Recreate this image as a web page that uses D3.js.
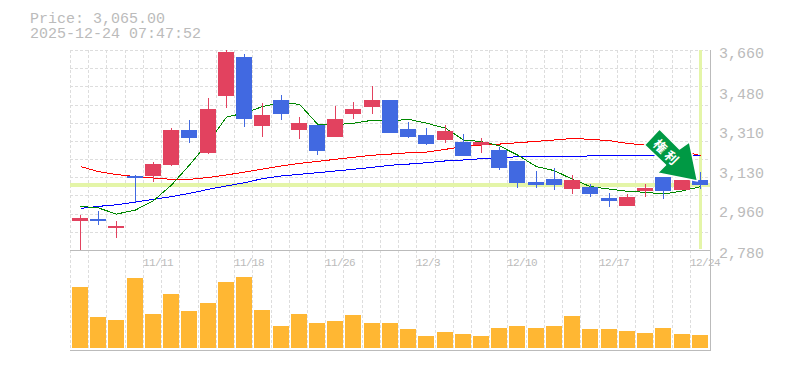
<!DOCTYPE html>
<html>
<head>
<meta charset="utf-8">
<style>
  html, body { margin: 0; padding: 0; background: #fff; }
  svg { display: block; }
  text { font-family: "Liberation Mono", monospace; fill: #bbb; }
</style>
</head>
<body>
<svg width="785" height="370"></svg>
<script src="https://cdn.jsdelivr.net/npm/d3@7"></script>
<script>
const dates = ["11/5","11/6","11/7","11/10","11/11","11/12","11/13","11/14","11/17","11/18",
  "11/19","11/20","11/21","11/25","11/26","11/27","11/28","12/1","12/2","12/3",
  "12/4","12/5","12/8","12/9","12/10","12/11","12/12","12/15","12/16","12/17",
  "12/18","12/19","12/22","12/23","12/24"];
const labelledDates = ["11/11","11/18","11/26","12/3","12/10","12/17","12/24"];
const priceLabels = [3660, 3480, 3310, 3130, 2960, 2780];

const opens = [2908,2916,2877,3106,3106,3154,3308,3207,3458,3629,3326,3440,3308,3330,3277,3378,3409,3440,
  3312,3286,3264,3255,3242,3220,3172,3079,3092,3048,3057,3009,2974,3040,3101,3044,3088];
const highs = [2934,2952,2908,3110,3167,3317,3352,3449,3660,3642,3427,3462,3365,3330,3414,3431,3502,3440,
  3343,3317,3330,3290,3273,3233,3172,3128,3141,3110,3070,3031,3026,3070,3101,3088,3123];
const lows = [2780,2890,2833,2991,3079,3150,3251,3202,3405,3321,3277,3352,3268,3198,3277,3356,3378,3295,
  3273,3242,3251,3194,3207,3132,3053,3053,3044,3026,3013,2969,2974,3013,3004,3044,3048];
const closes = [2921,2908,2886,3097,3158,3308,3273,3400,3651,3356,3374,3378,3339,3216,3356,3400,3440,3295,
  3277,3246,3304,3194,3255,3141,3075,3066,3066,3088,3026,2996,3013,3053,3040,3088,3065];

const maShort = [2972,2965,2938,2956,2997,3066,3154,3255,3365,3383,3411,3428,3421,3334,3331,3338,3351,3348,
  3355,3338,3316,3264,3257,3238,3198,3147,3129,3091,3059,3048,3038,3034,3026,3040,3059];
const maMid = [2963,2972,2979,2991,3003,3015,3029,3047,3062,3076,3094,3106,3113,3120,3128,3135,3144,3153,
  3158,3164,3172,3176,3182,3183,3191,3192,3192,3192,3194,3197,3194,3197,3198,3198,3197];
const maLong = [3147,3125,3112,3103,3097,3091,3091,3099,3110,3123,3136,3150,3161,3170,3179,3188,3197,3202,
  3208,3211,3223,3235,3242,3246,3252,3258,3264,3271,3267,3261,3249,3242,3233,3216,3195];

const volume = [610,310,280,700,340,540,370,450,660,710,380,220,340,250,270,330,250,250,
  190,120,160,140,120,200,220,200,220,320,190,190,170,150,200,140,130];

const lastPrice = 3065;
const priceText = "Price: 3,065.00";
const timeText = "2025-12-24 07:47:52";
const markText = "権利";

const svg = d3.select("svg");
const plot = { left: 70, right: 710, top: 50, mid: 250, bottom: 350 };

const x = d3.scaleBand().domain(dates).range([71, 709]);
const y = d3.scaleLinear().domain([2780, 3660]).range([250, 50]);
const yVol = d3.scaleLinear().domain([0, 1000]).range([348, 248]);
const bw = 16;
const barX = d => Math.round(x(d)) + 1;
const midX = d => barX(d) + bw / 2 + 0.5;

// Grid
const grid = svg.append("g").attr("stroke", "#ddd").attr("stroke-dasharray", "3,2")
  .attr("shape-rendering", "crispEdges");
grid.selectAll(".h").data(d3.range(2780, 3661, 80)).join("line").attr("class", "h")
  .attr("x1", plot.left).attr("x2", plot.right)
  .attr("y1", d => Math.round(y(d)) + 0.5).attr("y2", d => Math.round(y(d)) + 0.5);
grid.selectAll(".v").data(dates).join("line").attr("class", "v")
  .attr("x1", d => Math.round(x(d)) - 0.5).attr("x2", d => Math.round(x(d)) - 0.5)
  .attr("y1", plot.top).attr("y2", plot.bottom);

// Last price and last date highlight
svg.append("line")
  .attr("x1", plot.left).attr("x2", plot.right)
  .attr("y1", y(lastPrice)).attr("y2", y(lastPrice))
  .attr("stroke", "#e4f5a8").attr("stroke-width", 4)
  .attr("shape-rendering", "crispEdges");
svg.append("line")
  .attr("x1", midX(dates[34])).attr("x2", midX(dates[34]))
  .attr("y1", plot.top).attr("y2", 249)
  .attr("stroke", "#e4f5a8").attr("stroke-width", 3)
  .attr("shape-rendering", "crispEdges");

// Panel borders
const border = svg.append("g").attr("stroke", "#bbb").attr("shape-rendering", "crispEdges");
border.append("line").attr("x1", plot.left).attr("x2", plot.right + 1).attr("y1", plot.mid + 0.5).attr("y2", plot.mid + 0.5);
border.append("line").attr("x1", plot.left).attr("x2", plot.right + 1).attr("y1", plot.bottom + 0.5).attr("y2", plot.bottom + 0.5);
border.append("line").attr("x1", plot.right + 0.5).attr("x2", plot.right + 0.5).attr("y1", plot.top).attr("y2", plot.bottom);

// Volume
svg.append("g").attr("fill", "#ffb733").attr("shape-rendering", "crispEdges")
  .selectAll("rect").data(dates).join("rect")
  .attr("x", d => barX(d)).attr("width", bw)
  .attr("y", (d, i) => yVol(volume[i])).attr("height", (d, i) => yVol(0) - yVol(volume[i]));

// Moving averages
const line = d3.line().x((d, i) => midX(dates[i])).y(d => y(d));
[[maLong, "#f00"], [maMid, "#00f"], [maShort, "#080"]].forEach(([s, c]) => {
  svg.append("path").attr("d", line(s)).attr("fill", "none")
    .attr("stroke", c).attr("stroke-width", 1)
    .attr("shape-rendering", "crispEdges");
});

// Candles
const color = i => closes[i] >= opens[i] ? "#e2425f" : "#4169e1";
const candle = svg.append("g").attr("shape-rendering", "crispEdges");
candle.selectAll("line").data(dates).join("line")
  .attr("x1", d => midX(d)).attr("x2", d => midX(d))
  .attr("y1", (d, i) => y(highs[i])).attr("y2", (d, i) => y(lows[i]))
  .attr("stroke", (d, i) => color(i));
candle.selectAll("rect").data(dates).join("rect")
  .attr("x", d => barX(d)).attr("width", bw)
  .attr("y", (d, i) => y(Math.max(opens[i], closes[i])))
  .attr("height", (d, i) => Math.max(2, Math.abs(y(opens[i]) - y(closes[i]))))
  .attr("fill", (d, i) => color(i));

// Marker arrow
const mark = svg.append("g")
  .attr("transform", `translate(${midX(dates[34]) - 4},180)`);
mark.append("path")
  .attr("d", "M-37,-51L-17,-31L-7,-38L1,1L-39,-7L-31,-15L-52,-35Z")
  .attr("fill", "#009944").attr("stroke", "#fff").attr("stroke-width", 1.5)
  .attr("stroke-linejoin", "round");
mark.append("text")
  .attr("transform", "translate(-29,-27.5) rotate(45)")
  .attr("text-anchor", "middle").attr("dominant-baseline", "central")
  .style("font-family", '"Noto Sans CJK JP"').style("font-size", "13px")
  .style("font-weight", "700").style("fill", "#fff").style("letter-spacing", "3px")
  .text(markText);

// Labels
svg.append("text").attr("x", 30).attr("y", 23).style("font-size", "15px").text(priceText);
svg.append("text").attr("x", 30).attr("y", 38).style("font-size", "15px").text(timeText);

svg.append("g").selectAll("text").data(priceLabels).join("text")
  .attr("x", 719).attr("y", d => y(d) + 8)
  .style("font-size", "15px")
  .text(d3.format(","));

svg.append("g").selectAll("text").data(labelledDates).join("text")
  .attr("x", d => Math.round(x(d)) - 1).attr("y", 266)
  .style("font-size", "11px").style("letter-spacing", "-0.6px")
  .text(d => d);
</script>
</body>
</html>
